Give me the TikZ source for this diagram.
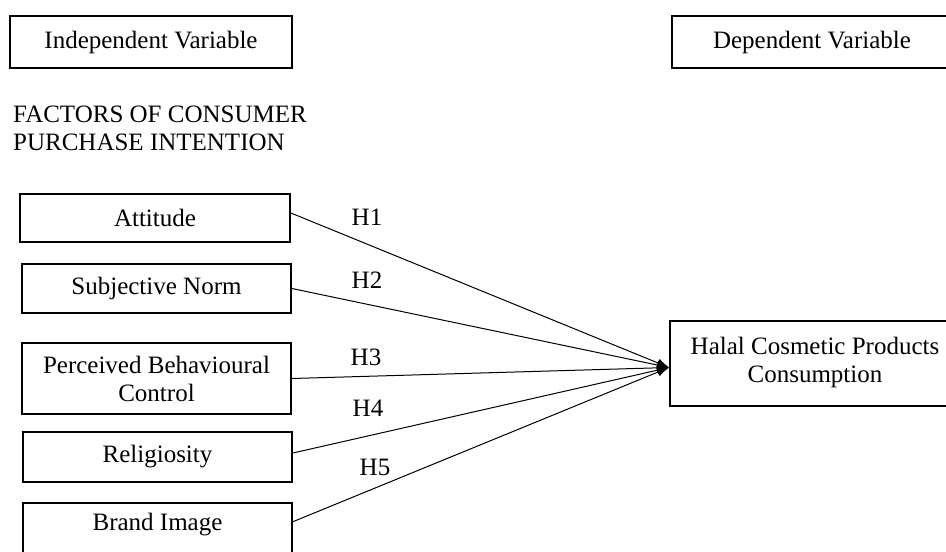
\documentclass[tikz,border=0pt]{standalone}
\usepackage{fontspec}
\setmainfont{Liberation Serif}
\usetikzlibrary{arrows.meta}
\begin{document}
\begin{tikzpicture}[x=1pt,y=-1pt,
  txt/.style={font=\fontsize{25}{28}\selectfont},
  box/.style={txt,draw,line width=1.8pt,inner sep=0pt,align=center},
  boxline/.style={line width=1.8pt},
  link/.style={line width=1pt,-{Latex[length=12pt,width=9pt]}},
  hlab/.style={txt,inner sep=0pt}]
\useasboundingbox (0,0) rectangle (946,552);
\clip (0,0) rectangle (946,552);
\node[box,minimum width=282pt,minimum height=52pt] (indep) at (151,42) {Independent Variable};
\node[box,minimum width=280pt,minimum height=52pt] (dep) at (812,42) {Dependent Variable};
\node[txt,inner sep=0pt,anchor=north west,align=left] (factors) at (13,106) {FACTORS OF CONSUMER\\PURCHASE INTENTION};
\node[box,minimum width=270pt,minimum height=48pt] (att) at (155,218) {Attitude};
\node[box,minimum width=269pt,minimum height=49pt] (sn) at (156.5,288.5) {Subjective Norm};
\node[box,minimum width=269pt,minimum height=71pt] (pbc) at (156.5,378.5) {Perceived Behavioural\\Control};
\node[box,minimum width=269pt,minimum height=50pt] (rel) at (157.5,457) {Religiosity};
\node[txt,inner sep=0pt,minimum width=269pt,minimum height=44pt] (brand) at (157.5,525) {Brand Image};
\draw[boxline] ([yshift=-12pt]brand.south west) -- (brand.north west) -- (brand.north east) -- ([yshift=-12pt]brand.south east);
\node[box,minimum width=290pt,minimum height=85pt] (halal) at (815,363.5) {Halal Cosmetic Products\\Consumption\rule[-8pt]{0pt}{8pt}};
\coordinate (tip) at ([yshift=-4pt]halal.west);
\draw[link] ([yshift=5pt]att.east) -- (tip);
\draw[link] (sn.east) -- (tip);
\draw[link] (pbc.east) -- (tip);
\draw[link] ([yshift=4pt]rel.east) -- (tip);
\draw[link] ([yshift=3pt]brand.east) -- (tip);
\node[hlab] (h1) at (367,217) {H1};
\node[hlab] (h2) at (367,280) {H2};
\node[hlab] (h3) at (366,357) {H3};
\node[hlab] (h4) at (368,408) {H4};
\node[hlab] (h5) at (375,467) {H5};
\end{tikzpicture}
\end{document}
